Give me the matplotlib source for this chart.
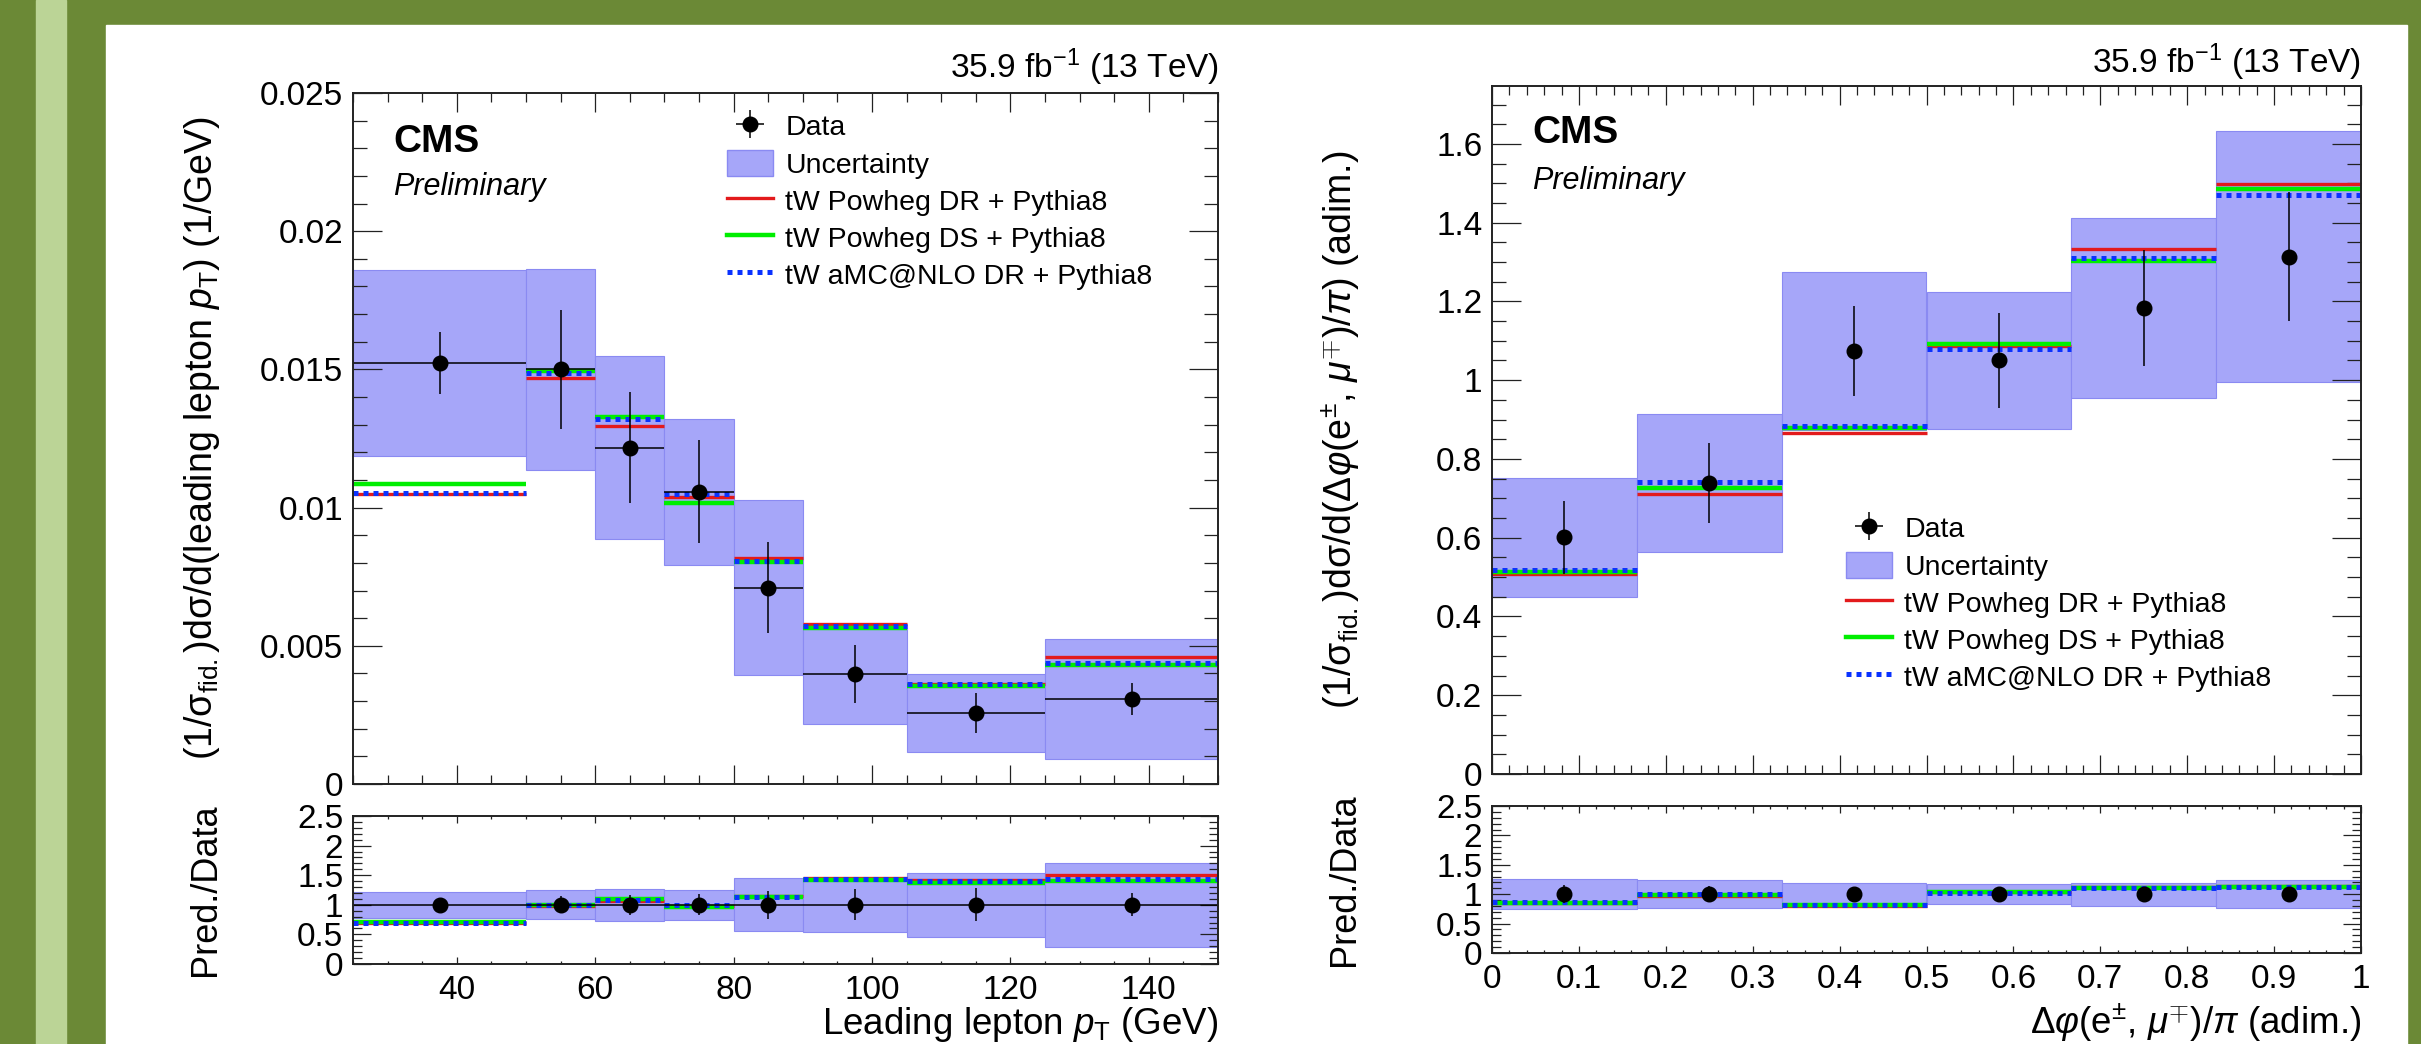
import numpy as np
import matplotlib.pyplot as plt
from matplotlib.patches import Rectangle, Patch
from matplotlib.lines import Line2D
from matplotlib.ticker import MultipleLocator, FormatStrFormatter

plt.rcParams['font.family'] = ['Liberation Sans', 'DejaVu Sans']
plt.rcParams['mathtext.fontset'] = 'custom'
plt.rcParams['mathtext.rm'] = 'Liberation Sans'
plt.rcParams['mathtext.it'] = 'Liberation Sans:italic'
plt.rcParams['mathtext.bf'] = 'Liberation Sans:bold'

# leading lepton pT (GeV)
pt_edges = [25, 50, 60, 70, 80, 90, 105, 125, 150]
pt_data = [0.01522, 0.01500, 0.01217, 0.01058, 0.00710, 0.00397, 0.00257, 0.00307]
pt_data_err = [0.00112, 0.00215, 0.00200, 0.00187, 0.00165, 0.00105, 0.00072, 0.00059]
pt_unc = [0.00337, 0.00365, 0.00330, 0.00264, 0.00316, 0.00180, 0.00140, 0.00217]
pt_dr = [0.01051, 0.01468, 0.01295, 0.01037, 0.00818, 0.00580, 0.00363, 0.00461]
pt_ds = [0.01087, 0.01494, 0.01329, 0.01016, 0.00804, 0.00564, 0.00353, 0.00430]
pt_amc = [0.01054, 0.01486, 0.01322, 0.01051, 0.00808, 0.00573, 0.00361, 0.00439]

# delta phi(e, mu)/pi
dphi_edges = [0, 1/6, 2/6, 3/6, 4/6, 5/6, 1]
dphi_data = [0.601, 0.739, 1.074, 1.050, 1.183, 1.314]
dphi_data_err = [0.092, 0.102, 0.114, 0.121, 0.148, 0.163]
dphi_unc = [0.151, 0.176, 0.200, 0.174, 0.229, 0.318]
dphi_dr = [0.507, 0.711, 0.865, 1.086, 1.334, 1.497]
dphi_ds = [0.514, 0.725, 0.878, 1.093, 1.303, 1.486]
dphi_amc = [0.519, 0.742, 0.884, 1.078, 1.311, 1.470]

labels = ['Data', 'Uncertainty', 'tW Powheg DR + Pythia8',
          'tW Powheg DS + Pythia8', 'tW aMC@NLO DR + Pythia8']

BAND = '#a6a6f9'
BAND_EDGE = '#8a8af2'
RED = '#e31a1c'
GREEN = '#00ee00'
BLUE = '#0a32ff'
W, H = 2421, 1044

fig = plt.figure(figsize=(W/100, H/100), dpi=100)
fig.patch.set_facecolor('#6b8936')
fig.add_artist(Rectangle((36/W, 0), 30/W, 1, transform=fig.transFigure,
                         color='#bbd496', zorder=-2))
fig.add_artist(Rectangle((106/W, 0), (2407-106)/W, (1044-25)/H,
                         transform=fig.transFigure, color='white', zorder=-2))


def px_axes(x0, y0, x1, y1):
    return fig.add_axes([x0/W, 1-y1/H, (x1-x0)/W, (y1-y0)/H])


def style(ax, xmaj, xmin, ymaj, ymin, xl, yl):
    ax.xaxis.set_major_locator(MultipleLocator(xmaj))
    ax.xaxis.set_minor_locator(MultipleLocator(xmin))
    ax.yaxis.set_major_locator(MultipleLocator(ymaj))
    ax.yaxis.set_minor_locator(MultipleLocator(ymin))
    ax.xaxis.set_major_formatter(FormatStrFormatter('%g'))
    ax.yaxis.set_major_formatter(FormatStrFormatter('%g'))
    ax.tick_params(which='both', direction='in', top=True, right=True,
                   labelsize=24, width=0.9, color='#222222')
    ax.tick_params(axis='x', which='major', length=xl[0], pad=8)
    ax.tick_params(axis='x', which='minor', length=xl[1])
    ax.tick_params(axis='y', which='major', length=yl[0], pad=7)
    ax.tick_params(axis='y', which='minor', length=yl[1])
    for s in ax.spines.values():
        s.set_linewidth(1.4)
        s.set_color('#222222')


def draw(ax, rax, edges, data, data_err, unc, dr, ds, amc, with_xerr):
    edges = np.array(edges)
    lo, hi = edges[:-1], edges[1:]
    cen = 0.5*(lo+hi)
    wid = hi-lo
    data = np.array(data)
    data_err = np.array(data_err)
    unc = np.array(unc)
    preds = [(np.array(dr), RED, '-', 2.4),
             (np.array(ds), GREEN, '-', 3.2),
             (np.array(amc), BLUE, (0, (1, 1)), 3.6)]
    xerr = wid/2 if with_xerr else np.zeros_like(wid)

    ax.bar(cen, 2*unc, bottom=data-unc, width=wid, color=BAND,
           edgecolor=BAND_EDGE, linewidth=0.8)
    for vals, c, ls, lw in preds:
        ax.hlines(vals, lo, hi, colors=c, linestyles=ls, linewidth=lw)
    eb = ax.errorbar(cen, data, xerr=xerr, yerr=data_err, fmt='o', color='k',
                     ms=10.5, elinewidth=1.1, capsize=0)

    # ratio panel: prediction / data
    rax.bar(cen, 2*unc/data, bottom=1-unc/data, width=wid, color=BAND,
            edgecolor=BAND_EDGE, linewidth=0.8)
    for vals, c, ls, lw in preds:
        rax.hlines(vals/data, lo, hi, colors=c, linestyles=ls, linewidth=lw)
    rax.errorbar(cen, np.ones_like(data), xerr=xerr, yerr=data_err/data,
                 fmt='o', color='k', ms=10.5, elinewidth=1.1, capsize=0)

    ax.set_xlim(edges[0], edges[-1])
    rax.set_xlim(edges[0], edges[-1])
    rax.set_ylim(0, 2.5)
    ax.tick_params(labelbottom=False)

    handles = [eb, Patch(facecolor=BAND, edgecolor=BAND_EDGE),
               Line2D([], [], color=RED, lw=2.4),
               Line2D([], [], color=GREEN, lw=3.2),
               Line2D([], [], color=BLUE, lw=3.6, ls=(0, (1, 1)))]
    return handles


# left: leading lepton pT
ax1 = px_axes(353, 93, 1218, 784)
rax1 = px_axes(353, 816, 1218, 964)
h1 = draw(ax1, rax1, pt_edges, pt_data, pt_data_err, pt_unc,
          pt_dr, pt_ds, pt_amc, True)
ax1.set_ylim(0, 0.025)
style(ax1, 20, 5, 0.005, 0.001, (13.7, 6.5), (21, 10))
style(rax1, 20, 5, 0.5, 0.1, (4.7, 2.5), (13, 6.5))
ax1.set_ylabel(r'(1/$\mathrm{\sigma_{fid.}}$)d$\mathrm{\sigma}$/d(leading lepton $p_{\mathrm{T}}$) (1/GeV)',
               fontsize=27)
ax1.yaxis.set_label_coords(-0.152, 0.5)
rax1.set_ylabel('Pred./Data', fontsize=26)
rax1.yaxis.set_label_coords(-0.150, 0.5)
rax1.set_xlabel(r'Leading lepton $p_{\mathrm{T}}$ (GeV)', fontsize=26.5, loc='right')
rax1.xaxis.set_label_coords(1.0, -0.28)

# right: delta phi
ax2 = px_axes(1492, 86, 2361, 774)
rax2 = px_axes(1492, 806, 2361, 953)
h2 = draw(ax2, rax2, dphi_edges, dphi_data, dphi_data_err, dphi_unc,
          dphi_dr, dphi_ds, dphi_amc, False)
ax2.set_ylim(0, 1.747)
style(ax2, 0.1, 0.02, 0.2, 0.05, (13.7, 6.5), (21, 10))
style(rax2, 0.1, 0.02, 0.5, 0.1, (4.7, 2.5), (13, 6.5))
ax2.set_ylabel(r'(1/$\mathrm{\sigma_{fid.}}$)d$\mathrm{\sigma}$/d($\Delta\varphi$(e$^{\pm}$, $\mu^{\mp}$)/$\pi$) (adim.)',
               fontsize=27)
ax2.yaxis.set_label_coords(-0.150, 0.5)
rax2.set_ylabel('Pred./Data', fontsize=26)
rax2.yaxis.set_label_coords(-0.150, 0.5)
rax2.set_xlabel(r'$\Delta\varphi$(e$^{\pm}$, $\mu^{\mp}$)/$\pi$ (adim.)', fontsize=26.5, loc='right')
rax2.xaxis.set_label_coords(1.0, -0.33)

# legends
for ax, h, (lx, ty) in [(ax1, h1, (727, 113)), (ax2, h2, (1846, 515))]:
    ax.legend(h, labels, loc='upper left', bbox_to_anchor=(lx/W, 1-ty/H),
              bbox_transform=fig.transFigure, frameon=False, fontsize=20.5,
              handlelength=1.6, handletextpad=0.45, labelspacing=0.3,
              handleheight=1.0, borderpad=0, borderaxespad=0)

# CMS labels and lumi
for (x, y1, y2) in [(393, 152, 195), (1532, 143, 189)]:
    fig.text(x/W, 1-y1/H, 'CMS', fontsize=28, fontweight='bold', va='baseline')
    fig.text(x/W, 1-y2/H, 'Preliminary', fontsize=22, style='italic', va='baseline')
for (x, y) in [(1219, 78), (2361, 73)]:
    fig.text(x/W, 1-y/H, r'35.9 fb$^{\mathrm{-1}}$ (13 TeV)', fontsize=24,
             ha='right', va='baseline')

fig.savefig('out.png', dpi=100, facecolor=fig.get_facecolor())
